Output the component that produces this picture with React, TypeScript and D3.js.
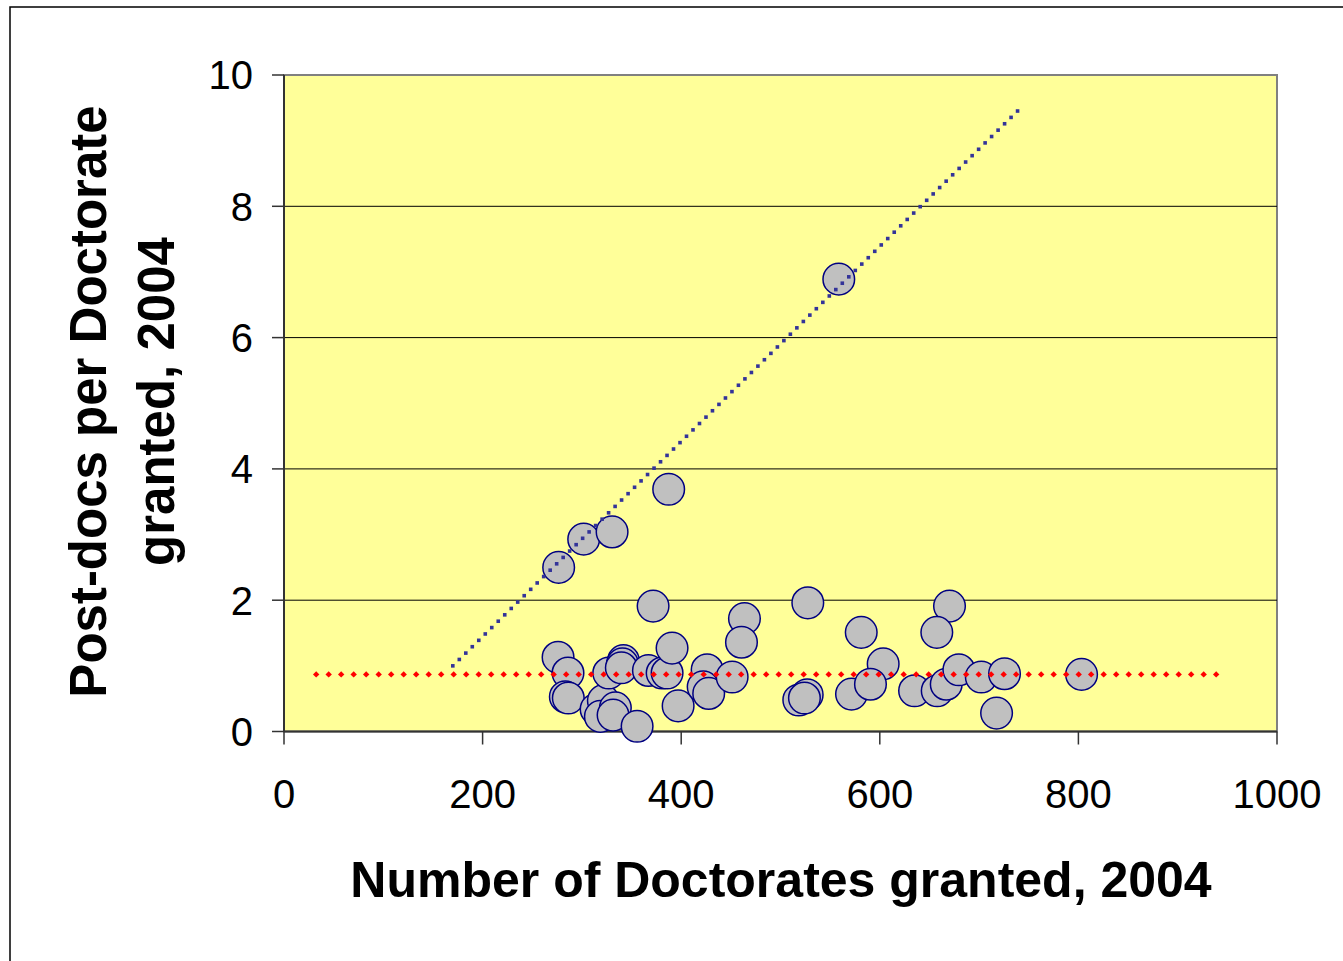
import React from "react";
import * as d3 from "d3";

// ---- data ----
const upperX = [276.6, 301.8, 330.4, 387.4, 558.7];
const upperY = [2.5, 2.93, 3.04, 3.69, 6.89];

const otherX = [
  371.7, 463.7, 460.7, 527.5, 581.3, 670.2, 657.4, 603.4,
  276.0, 286.0, 283.3, 286.3, 314.3, 321.6, 318.6, 333.7, 331.4, 327.0,
  341.8, 340.8, 339.7, 355.6, 367.0, 380.8, 385.8, 390.8, 396.9,
  426.1, 422.1, 427.7, 451.3, 518.4, 526.9, 524.1, 571.5, 590.6,
  635.0, 657.8, 666.9, 679.6, 702.2, 725.6, 717.6, 803.2,
];
const otherY = [
  1.91, 1.72, 1.36, 1.96, 1.51, 1.91, 1.51, 1.03,
  1.13, 0.89, 0.53, 0.51, 0.34, 0.47, 0.23, 0.36, 0.25, 0.89,
  1.08, 1.03, 0.97, 0.08, 0.93, 0.89, 0.89, 1.27, 0.39,
  0.94, 0.68, 0.58, 0.83, 0.48, 0.56, 0.51, 0.57, 0.72,
  0.62, 0.62, 0.72, 0.94, 0.83, 0.88, 0.28, 0.87,
];

const blueLineX = [170, 740];
const blueLineY = [1.0, 9.47];
const redLineX = [32.4, 940.4];
const redLineY = [0.87, 0.87];

const xTicks = [0, 200, 400, 600, 800, 1000];
const yTicks = [0, 2, 4, 6, 8, 10];

const xTitle = "Number of Doctorates granted, 2004";
const yTitleLines = ["Post-docs per Doctorate", "granted, 2004"];

// ---- layout ----
const W = 1343;
const H = 961;
const L = 284;
const R = 1277;
const T = 75;
const B = 731.5;
const FONT = "Arial, 'Liberation Sans', sans-serif";

export default function App() {
  const x = d3.scaleLinear().domain([0, 1000]).range([L, R]);
  const y = d3.scaleLinear().domain([0, 10]).range([B, T]);

  const pts = [
    ...otherX.map((v, i) => ({ x: v, y: otherY[i] })),
    ...upperX.map((v, i) => ({ x: v, y: upperY[i] })),
  ];

  // points along lines (pixel space)
  const along = (xs: number[], ys: number[], step: number) => {
    const x0 = x(xs[0]), y0 = y(ys[0]), x1 = x(xs[1]), y1 = y(ys[1]);
    const len = Math.hypot(x1 - x0, y1 - y0);
    const n = Math.floor(len / step);
    return d3.range(n + 1).map((i) => {
      const t = (i * step) / len;
      return [x0 + (x1 - x0) * t, y0 + (y1 - y0) * t];
    });
  };
  const blueDots = along(blueLineX, blueLineY, 9.1);
  const redDots = along(redLineX, redLineY, 12.5);

  return (
    <svg
      width={W}
      height={H}
      style={{ position: "absolute", left: 0, top: 0, background: "#fff" }}
    >
      <rect x={10} y={7} width={W + 20} height={H + 20} fill="#fff" stroke="#000" strokeWidth={1.5} />
      <rect x={L} y={T} width={R - L} height={B - T} fill="#FFFF99" stroke="#808080" strokeWidth={2} />
      {yTicks.filter((t) => t > 0 && t < 10).map((t) => (
        <line key={t} x1={L} x2={R} y1={y(t)} y2={y(t)} stroke="#000" strokeWidth={1} />
      ))}
      {/* axes */}
      <line x1={L} x2={L} y1={T} y2={B} stroke="#333" strokeWidth={2} />
      <line x1={L} x2={R} y1={B} y2={B} stroke="#333" strokeWidth={2} />
      {yTicks.map((t) => (
        <g key={"y" + t}>
          <line x1={L - 12} x2={L} y1={y(t)} y2={y(t)} stroke="#333" strokeWidth={1.5} />
          <text x={253} y={y(t)} dy="0.36em" textAnchor="end" fontFamily={FONT} fontSize={40} fill="#000">
            {t}
          </text>
        </g>
      ))}
      {xTicks.map((t) => (
        <g key={"x" + t}>
          <line x1={x(t)} x2={x(t)} y1={B} y2={B + 13} stroke="#333" strokeWidth={1.5} />
          <text x={x(t)} y={808} textAnchor="middle" fontFamily={FONT} fontSize={40} fill="#000">
            {t}
          </text>
        </g>
      ))}
      {/* points */}
      {pts.map((p, i) => (
        <circle key={i} cx={x(p.x)} cy={y(p.y)} r={15.8} fill="#C0C0C0" stroke="#000080" strokeWidth={1.5} />
      ))}
      {/* trend lines */}
      {blueDots.map(([px, py], i) => (
        <rect key={"b" + i} x={px - 1.8} y={py - 1.8} width={3.6} height={3.6} fill="#333399" />
      ))}
      {redDots.map(([px, py], i) => (
        <path key={"r" + i} d={`M${px},${py - 3.2}L${px + 3.2},${py}L${px},${py + 3.2}L${px - 3.2},${py}Z`} fill="#FF0000" />
      ))}
      {/* titles */}
      <text x={781} y={897} textAnchor="middle" fontFamily={FONT} fontWeight="bold" fontSize={50} fill="#000">
        {xTitle}
      </text>
      {yTitleLines.map((s, i) => (
        <text
          key={s}
          transform={`translate(${106 + i * 68},401.5) rotate(-90)`}
          textAnchor="middle"
          fontFamily={FONT}
          fontWeight="bold"
          fontSize={51}
          fill="#000"
        >
          {s}
        </text>
      ))}
    </svg>
  );
}
